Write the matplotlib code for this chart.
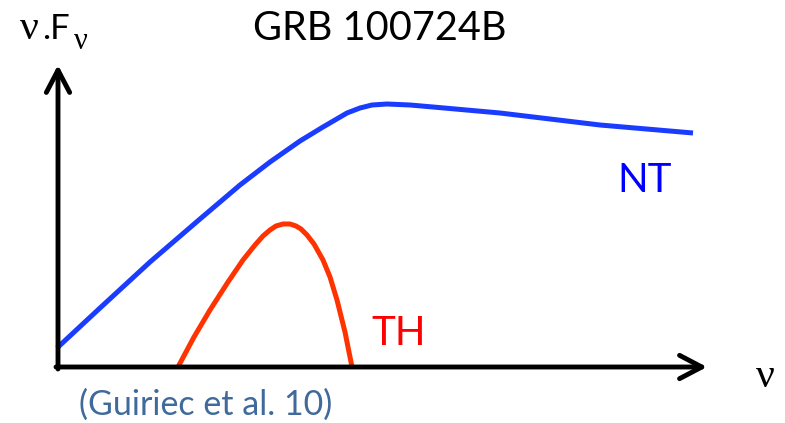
import matplotlib
matplotlib.use("Agg")
import matplotlib.pyplot as plt

# schematic spectrum, arbitrary units (origin at the axis corner)
nu_nt = [-1, 42, 92, 142, 182, 212, 242, 265, 289, 302, 314, 329, 352, 375, 442, 542, 635]
flux_nt = [19, 59, 105, 148, 182, 205, 226, 240, 254, 259, 262, 263, 262, 260, 254, 242, 234]

nu_th = [120, 136, 152, 170, 185, 197, 205, 212, 218, 225, 232, 238, 243, 249, 256, 265, 272, 279, 287, 294]
flux_th = [0, 30, 57, 85, 107, 122, 131, 137, 141, 143, 143, 141, 138, 132, 123, 107, 90, 67, 35, 0]

title = "GRB 100724B"
ref_text = "(Guiriec et al. 10)"

fig = plt.figure(figsize=(7.85, 4.23), dpi=100)
ax = fig.add_axes([0, 0, 1, 1])
ax.set_xlim(-58, 727)
ax.set_ylim(-56, 367)
ax.axis("off")

# axes arrows
arrow = dict(arrowstyle="->,head_length=0.8,head_width=0.42", lw=3.5,
             color="black", shrinkA=0, shrinkB=0, mutation_scale=20)
ax.annotate("", xy=(0, 302), xytext=(0, -2), arrowprops=arrow)
ax.annotate("", xy=(649, 0), xytext=(-2, 0), arrowprops=arrow)

ax.plot(nu_nt, flux_nt, color="#1a3cff", lw=3.6, solid_capstyle="butt", solid_joinstyle="round")
ax.plot(nu_th, flux_th, color="#ff3300", lw=3.6, solid_capstyle="butt", solid_joinstyle="round")

sans = "Lato"
ax.text(322, 339, title, fontsize=28.5, family=sans, ha="center", va="center")
ax.text(587, 187, "NT", fontsize=29, family=sans, color="#0000ff", ha="center", va="center")
ax.text(341, 34, "TH", fontsize=29, family=sans, color="#ff0000", ha="center", va="center")
ax.text(148, -38, ref_text, fontsize=24.5, family=sans, color="#3f6a9b", ha="center", va="center")

# axis labels
ax.text(707, -10, "ν", fontsize=30, family="Liberation Serif", ha="center", va="center")
ax.text(-38, 328, "ν", fontsize=30, family="Liberation Serif", ha="left", va="baseline")
ax.text(-16, 328, ".F", fontsize=25, family=sans, ha="left", va="baseline")
ax.text(16, 318, "ν", fontsize=22, family="Liberation Serif", ha="left", va="baseline")

fig.savefig("out.png", dpi=100)
